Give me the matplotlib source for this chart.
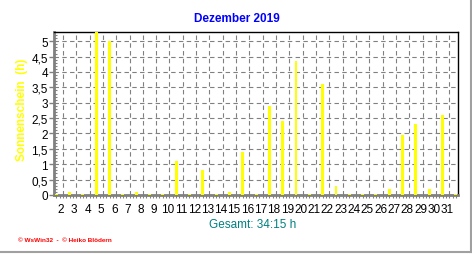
"""
Monthly sunshine chart, WsWin style.
"""

import matplotlib; matplotlib.use('Agg')

import matplotlib.pyplot as plt
from matplotlib.ticker import MultipleLocator, FixedLocator, FuncFormatter
import numpy as np


FIGURE_FILE = "out.png"

days = list(range(1, 32))
sunshine = [0.0, 0.1, 0.0, 5.3, 5.0, 0.0, 0.1, 0.0, 0.0, 1.1,
            0.0, 0.8, 0.0, 0.1, 1.4, 0.0, 2.9, 2.4, 4.35, 0.0,
            3.6, 0.3, 0.0, 0.0, 0.0, 0.2, 1.95, 2.3, 0.2, 2.6,
            0.0]
day_labels = [str(d) for d in range(2, 32)]
title = "Dezember 2019"
ylabel = "Sonnenschein  (h)"
total_text = "Gesamt: 34:15 h"
footer = "\u00a9 WsWin32  -  \u00a9 Heiko Bl\u00f6dern"

GRAY = '#808080'

plt.rcParams['font.family'] = ['Liberation Sans', 'DejaVu Sans']

fig = plt.figure(figsize=(4.72, 2.55), dpi=100)
fig.patch.set_facecolor('white')

# light frame round the whole picture (right and bottom)
fig.add_artist(plt.Line2D([0, 0.997], [0.008, 0.008], color='#a0a0a0', lw=1.5,
                          transform=fig.transFigure))
fig.add_artist(plt.Line2D([0.997, 0.997], [0.008, 1.0], color='#a0a0a0', lw=1.5,
                          transform=fig.transFigure))

ax = fig.add_axes([0.115, 0.2314, 0.855, 0.6392])

# zero days still get a small stub, as in the original
heights = np.maximum(np.array(sunshine), 0.03)
ax.bar(days, heights, width=0.22, color='#ffff00', zorder=3)

ax.set_xlim(0.85, 31.15)
ax.set_ylim(0, 5.3)

# grid
ax.set_yticks(np.arange(0, 5.01, 0.5))
ax.yaxis.set_major_formatter(FuncFormatter(
    lambda v, p: ('%g' % v).replace('.', ',')))
ax.yaxis.set_minor_locator(MultipleLocator(0.1))
for v in np.arange(0.5, 5.01, 0.5):
    ax.axhline(v, color=GRAY, lw=0.8, ls=(0, (4, 3)), zorder=1)
for d in days[:-1]:
    ax.axvline(d + 0.5, color=GRAY, lw=0.8, ls=(0, (4, 3)), zorder=1)

# x tick labels sit a bit left of the bars
ax.xaxis.set_major_locator(FixedLocator([d - 0.65 for d in range(2, 32)]))
ax.set_xticklabels(day_labels)
ax.xaxis.set_minor_locator(MultipleLocator(0.25))
ax.tick_params(axis='x', which='major', length=0, pad=6, labelsize=8.5)
ax.tick_params(axis='x', which='minor', length=2.5, color=GRAY, width=0.8,
               direction='out')
ax.tick_params(axis='y', which='major', length=3.5, color=GRAY, width=1,
               labelsize=8.5, pad=1)
ax.tick_params(axis='y', which='minor', length=2, color=GRAY, width=0.8,
               direction='in')

# spines
for s in ('left', 'bottom'):
    ax.spines[s].set_color(GRAY)
    ax.spines[s].set_linewidth(2)
for s in ('top', 'right'):
    ax.spines[s].set_color('black')
    ax.spines[s].set_linewidth(1)

# texts
fig.text(0.5015, 1 - 19 / 255, title, color='#0000ff', fontsize=8.5,
         fontweight='bold', ha='center', va='center')
fig.text(22 / 472, 1 - 110 / 255, ylabel, color='#ffff00', fontsize=8.5,
         fontweight='bold', rotation=90, ha='center', va='center')
fig.text(253 / 472, 1 - 225 / 255, total_text, color='#008080', fontsize=8.5,
         ha='center', va='center')
fig.text(18 / 472, 1 - 240.5 / 255, footer, color='#ff0000', fontsize=4.6,
         fontweight='bold', ha='left', va='center')

fig.savefig(FIGURE_FILE, dpi=100)
